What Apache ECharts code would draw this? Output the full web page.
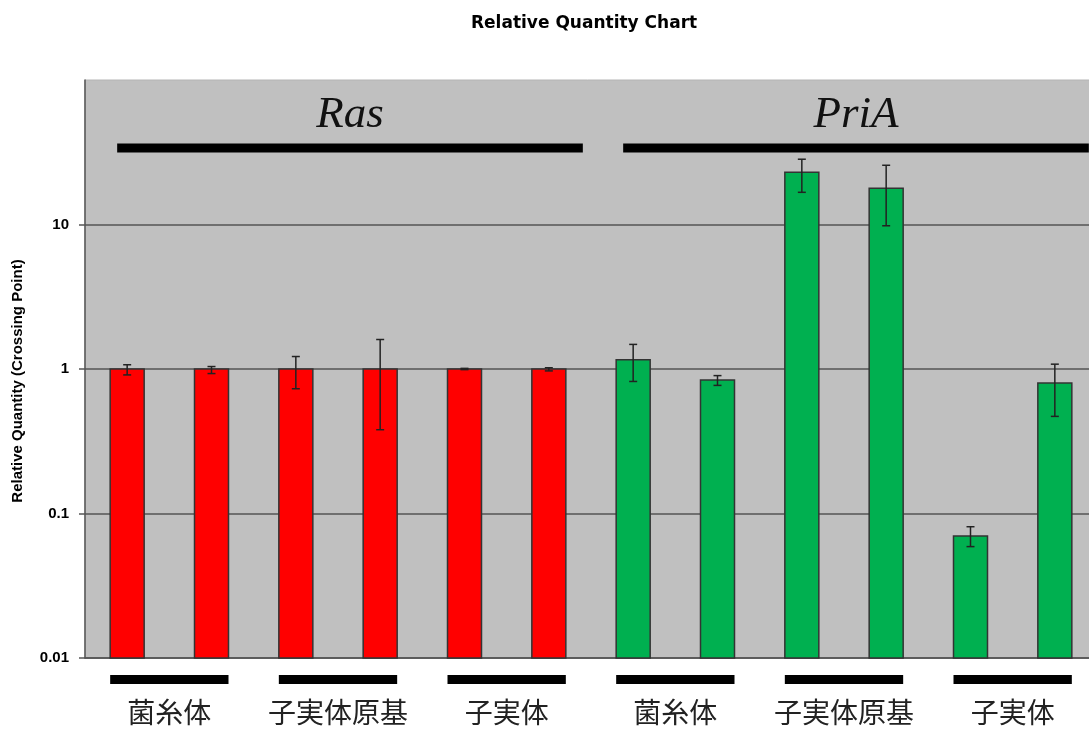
<!DOCTYPE html>
<html>
<head>
<meta charset="utf-8">
<script src="https://cdn.jsdelivr.net/npm/echarts@6/dist/echarts.min.js"></script>
<style>
  html, body { margin: 0; padding: 0; background: #fff; }
  #chart { width: 1089px; height: 731px; }
</style>
</head>
<body>
<div id="chart"></div>
<script>
// genes and stages, two replicates per stage
const genes = ['Ras', 'PriA']
const stages = ['菌糸体', '子実体原基', '子実体']
const categories = genes.flatMap(g => stages.flatMap(s => [g + ' ' + s + ' 1', g + ' ' + s + ' 2']))

const rasValues = [1, 1, 1, 1, 1, 1]
const rasLow = [0.91, 0.93, 0.73, 0.38, 0.99, 0.97]
const rasHigh = [1.07, 1.04, 1.22, 1.6, 1.01, 1.02]

const priaValues = [1.16, 0.84, 23, 17.8, 0.07, 0.8]
const priaLow = [0.82, 0.77, 16.7, 9.8, 0.059, 0.47]
const priaHigh = [1.48, 0.9, 28.3, 25.7, 0.081, 1.08]

const yTicks = [0.01, 0.1, 1, 10]
const geneColors = ['#ff0000', '#00b050']

let chart = echarts.init(document.getElementById('chart'))

const Y_MIN = 0.01
const allValues = rasValues.concat(priaValues)
const barData = allValues.map((v, i) => [i, v, i < 6 ? 0 : 1])
const errData = allValues.map((v, i) => [
  i,
  i < 6 ? rasLow[i] : priaLow[i - 6],
  i < 6 ? rasHigh[i] : priaHigh[i - 6]
])

// gene groups: [first index, last index, gene]
const geneSpans = genes.map((g, gi) => [gi * 6, gi * 6 + 5, gi])
// stage pairs under the axis
const stageSpans = categories.filter((c, i) => i % 2 === 0).map((c, k) => [k * 2, k * 2 + 1])

chart.setOption({
  animation: false,
  backgroundColor: '#fff',
  title: {
    text: 'Relative Quantity Chart',
    left: 466,
    top: 10,
    textStyle: {
      fontFamily: 'DejaVu Sans',
      fontWeight: 'bold',
      fontSize: 17,
      color: '#000'
    }
  },
  grid: {
    show: true,
    left: 85,
    top: 80,
    width: 1012,
    height: 578,
    outerBoundsMode: 'none',
    containLabel: false,
    backgroundColor: '#c0c0c0',
    borderColor: '#b4b4b4',
    borderWidth: 1
  },
  xAxis: [
    {
      type: 'category',
      data: categories,
      axisLine: { lineStyle: { color: '#555', width: 1.5 } },
      axisTick: { show: false },
      axisLabel: { show: false },
      splitLine: { show: false }
    },
    {
      type: 'category',
      data: genes.flatMap(() => stages),
      position: 'bottom',
      axisLine: { show: false },
      axisTick: { show: false },
      axisLabel: {
        interval: 0,
        margin: 40,
        fontFamily: 'Noto Sans CJK JP',
        fontSize: 28,
        color: '#222'
      }
    }
  ],
  yAxis: {
    type: 'log',
    logBase: 10,
    min: Y_MIN,
    max: 100,
    name: 'Relative Quantity (Crossing Point)',
    nameLocation: 'middle',
    nameGap: 60,
    nameTextStyle: {
      fontFamily: 'Liberation Sans',
      fontWeight: 'bold',
      fontSize: 15,
      color: '#000',
      padding: [0, 24, 0, 0]
    },
    axisLine: { show: true, lineStyle: { color: '#555', width: 1.5 } },
    axisTick: { show: true, inside: false, length: 6, customValues: yTicks, lineStyle: { color: '#555', width: 1.5 } },
    axisLabel: {
      margin: 16,
      customValues: yTicks,
      fontFamily: 'Liberation Sans',
      fontWeight: 'bold',
      fontSize: 15,
      color: '#000',
      formatter: v => String(v)
    },
    splitLine: {
      show: true,
      lineStyle: { color: '#555', width: 1.5 }
    }
  },
  series: [
    {
      name: 'bars',
      type: 'custom',
      z: 5,
      data: barData,
      encode: { x: 0, y: 1 },
      renderItem: function (params, api) {
        let top = api.coord([api.value(0), api.value(1)])
        let base = api.coord([api.value(0), Y_MIN])
        return {
          type: 'rect',
          shape: { x: top[0] - 17, y: top[1], width: 34, height: base[1] - top[1] },
          style: { fill: geneColors[api.value(2)], stroke: '#333', lineWidth: 1.5 }
        }
      }
    },
    {
      name: 'error',
      type: 'custom',
      z: 10,
      data: errData,
      encode: { x: 0, y: [1, 2] },
      renderItem: function (params, api) {
        let lo = api.coord([api.value(0), api.value(1)])
        let hi = api.coord([api.value(0), api.value(2)])
        let cap = 4
        let style = { stroke: '#222', lineWidth: 1.5 }
        return {
          type: 'group',
          children: [
            { type: 'line', shape: { x1: lo[0], y1: lo[1], x2: hi[0], y2: hi[1] }, style: style },
            { type: 'line', shape: { x1: lo[0] - cap, y1: lo[1], x2: lo[0] + cap, y2: lo[1] }, style: style },
            { type: 'line', shape: { x1: hi[0] - cap, y1: hi[1], x2: hi[0] + cap, y2: hi[1] }, style: style }
          ]
        }
      }
    },
    {
      name: 'genes',
      type: 'custom',
      z: 11,
      clip: false,
      data: geneSpans,
      renderItem: function (params, api) {
        let cs = params.coordSys
        let x1 = api.coord([api.value(0), 1])[0] - 10
        let x2 = api.coord([api.value(1), 1])[0] + 34
        let y = cs.y + 68
        return {
          type: 'group',
          children: [
            { type: 'rect', shape: { x: x1, y: y - 4.5, width: x2 - x1, height: 9 }, style: { fill: '#000' } },
            {
              type: 'text',
              style: {
                text: genes[api.value(2)],
                x: (x1 + x2) / 2,
                y: y - 33,
                fill: '#111',
                fontFamily: 'Liberation Serif',
                fontStyle: 'italic',
                fontSize: 45,
                align: 'center',
                verticalAlign: 'middle'
              }
            }
          ]
        }
      }
    },
    {
      name: 'stages',
      type: 'custom',
      z: 11,
      clip: false,
      data: stageSpans,
      renderItem: function (params, api) {
        let cs = params.coordSys
        let x1 = api.coord([api.value(0), 1])[0] - 17
        let x2 = api.coord([api.value(1), 1])[0] + 17
        let y = cs.y + cs.height + 21.5
        return {
          type: 'rect',
          shape: { x: x1, y: y - 4.5, width: x2 - x1, height: 9 },
          style: { fill: '#000' }
        }
      }
    }
  ]
})
</script>
</body>
</html>
